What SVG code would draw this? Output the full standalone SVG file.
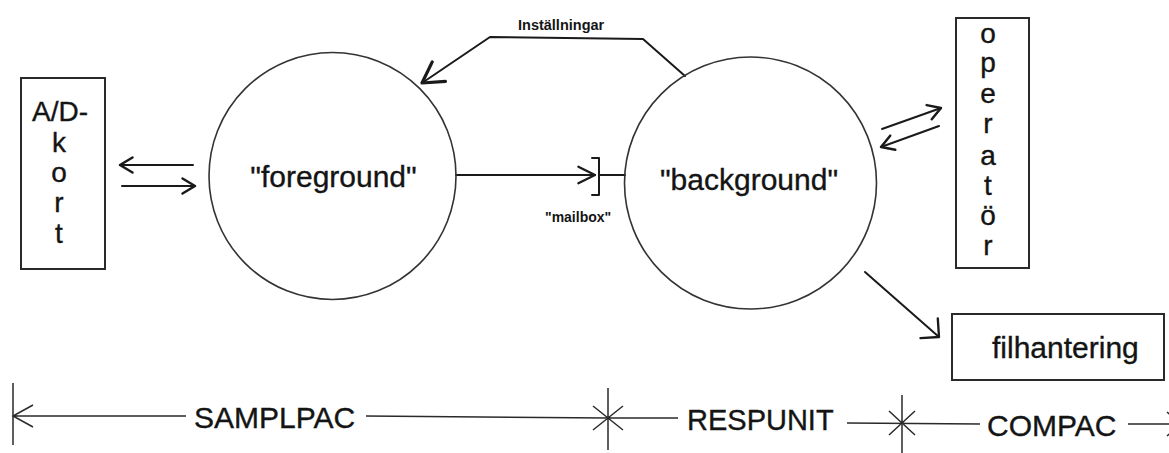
<svg xmlns="http://www.w3.org/2000/svg" width="1169" height="453" viewBox="0 0 1169 453">
<defs>
<style>
.lbl{font-family:"Liberation Sans",Arial,sans-serif;fill:#141414;stroke:#141414;stroke-width:0.35}
.big{font-size:30px}
.ltr{font-size:28px;text-anchor:middle}
.small{font-weight:bold;stroke-width:0}
.node{fill:none;stroke:#333;stroke-width:1.6}
.box{fill:#fff;stroke:#2a2a2a;stroke-width:2}
.con{fill:none;stroke:#1a1a1a;stroke-width:2;stroke-linecap:round;stroke-linejoin:round}
.thin{fill:none;stroke:#2a2a2a;stroke-width:1.5}
</style>
<marker id="arrS" markerUnits="userSpaceOnUse" refX="0" refY="0" markerWidth="20" markerHeight="20" viewBox="-12 -8 14 16" orient="auto" overflow="visible">
<path d="M-10,-6 L0,0 L-10,6" fill="none" stroke="#1a1a1a" stroke-width="2" stroke-linecap="round" stroke-linejoin="round"/>
</marker>
<marker id="arrM" markerUnits="userSpaceOnUse" refX="0" refY="0" markerWidth="20" markerHeight="20" viewBox="-16 -9 18 18" orient="auto" overflow="visible">
<path d="M-15,-7.5 L0,0 L-15,7.5" fill="none" stroke="#1a1a1a" stroke-width="2" stroke-linecap="round" stroke-linejoin="round"/>
</marker>
<marker id="arrL" markerUnits="userSpaceOnUse" refX="0" refY="0" markerWidth="30" markerHeight="30" viewBox="-22 -14 24 28" orient="auto" overflow="visible">
<path d="M-19,-11 L0,0 L-19,11" fill="none" stroke="#1a1a1a" stroke-width="3" stroke-linecap="round" stroke-linejoin="round"/>
</marker>
<marker id="arrW" markerUnits="userSpaceOnUse" refX="0" refY="0" markerWidth="30" markerHeight="30" viewBox="-22 -16 24 32" orient="auto" overflow="visible">
<path d="M-14,-14 L0,0 L-14,14" fill="none" stroke="#1a1a1a" stroke-width="2.5" stroke-linecap="round" stroke-linejoin="round"/>
</marker>
</defs>
<rect width="1169" height="453" fill="#fff"/>

<g id="connectors">
<line class="con" x1="193" y1="165" x2="120" y2="165" marker-end="url(#arrS)"/>
<line class="con" x1="122" y1="186" x2="195" y2="186" marker-end="url(#arrS)"/>
<line class="con" x1="456" y1="175" x2="595" y2="175" stroke-width="1.6" marker-end="url(#arrM)"/>
<path class="con" d="M592,158 H599 V195 H592"/>
<line class="con" x1="599" y1="175" x2="625" y2="175" stroke-width="1.6"/>
<polyline class="con" points="685,76 643,39 490,37 422,83" stroke-width="2.5" marker-end="url(#arrL)"/>
<line class="con" x1="882" y1="129" x2="941" y2="108" marker-end="url(#arrS)"/>
<line class="con" x1="939" y1="126" x2="881" y2="147" marker-end="url(#arrS)"/>
<line class="con" x1="865" y1="272" x2="939" y2="337" stroke-width="2.5" marker-end="url(#arrW)"/>
</g>

<g id="node-adkort">
<rect class="box" x="21" y="78" width="84" height="191"/>
<text class="lbl ltr" x="60" y="121">A/D-</text>
<text class="lbl ltr" x="59" y="152">k</text>
<text class="lbl ltr" x="59" y="182">o</text>
<text class="lbl ltr" x="59" y="212">r</text>
<text class="lbl ltr" x="59" y="243">t</text>
</g>

<g id="node-foreground">
<circle class="node" cx="332.5" cy="176" r="123.5"/>
<text class="lbl big" x="333.5" y="187" text-anchor="middle">"foreground"</text>
</g>

<g id="node-background">
<circle class="node" cx="750.5" cy="183" r="126"/>
<text class="lbl big" x="749" y="190" text-anchor="middle">"background"</text>
</g>

<g id="label-installningar">
<text class="lbl small" x="518" y="30" font-size="14.5">Inställningar</text>
</g>

<g id="label-mailbox">
<text class="lbl small" x="545" y="222" font-size="14">"mailbox"</text>
</g>

<g id="node-operator">
<rect class="box" x="956" y="18" width="73" height="250"/>
<text class="lbl ltr" x="988" y="43">o</text>
<text class="lbl ltr" x="988" y="72">p</text>
<text class="lbl ltr" x="988" y="103">e</text>
<text class="lbl ltr" x="988" y="133">r</text>
<text class="lbl ltr" x="988" y="165">a</text>
<text class="lbl ltr" x="988" y="195">t</text>
<text class="lbl ltr" x="988" y="225">ö</text>
<text class="lbl ltr" x="988" y="255">r</text>
</g>

<g id="node-filhantering">
<rect class="box" x="952" y="314" width="212" height="66"/>
<text class="lbl big" x="992" y="358">filhantering</text>
</g>

<g id="scale">
<path class="thin" d="M13,383 V445 M13,416 H186 M33,405 L13,416 L33,427"/>
<text class="lbl big" x="194" y="428">SAMPLPAC</text>
<path class="thin" d="M366,416 L608,418"/>
<path class="thin" d="M608,388 V450 M593,406 L623,430 M593,430 L623,406 M608,418 H678"/>
<text class="lbl" x="687" y="430" font-size="29">RESPUNIT</text>
<path class="thin" d="M847,423 L980,424 M902,395 V453 M889,411 L915,435 M889,435 L915,411"/>
<text class="lbl big" x="987" y="436">COMPAC</text>
<path class="thin" d="M1128,424 H1169 M1167,412 L1180,424 M1167,436 L1180,424"/>
</g>
</svg>
